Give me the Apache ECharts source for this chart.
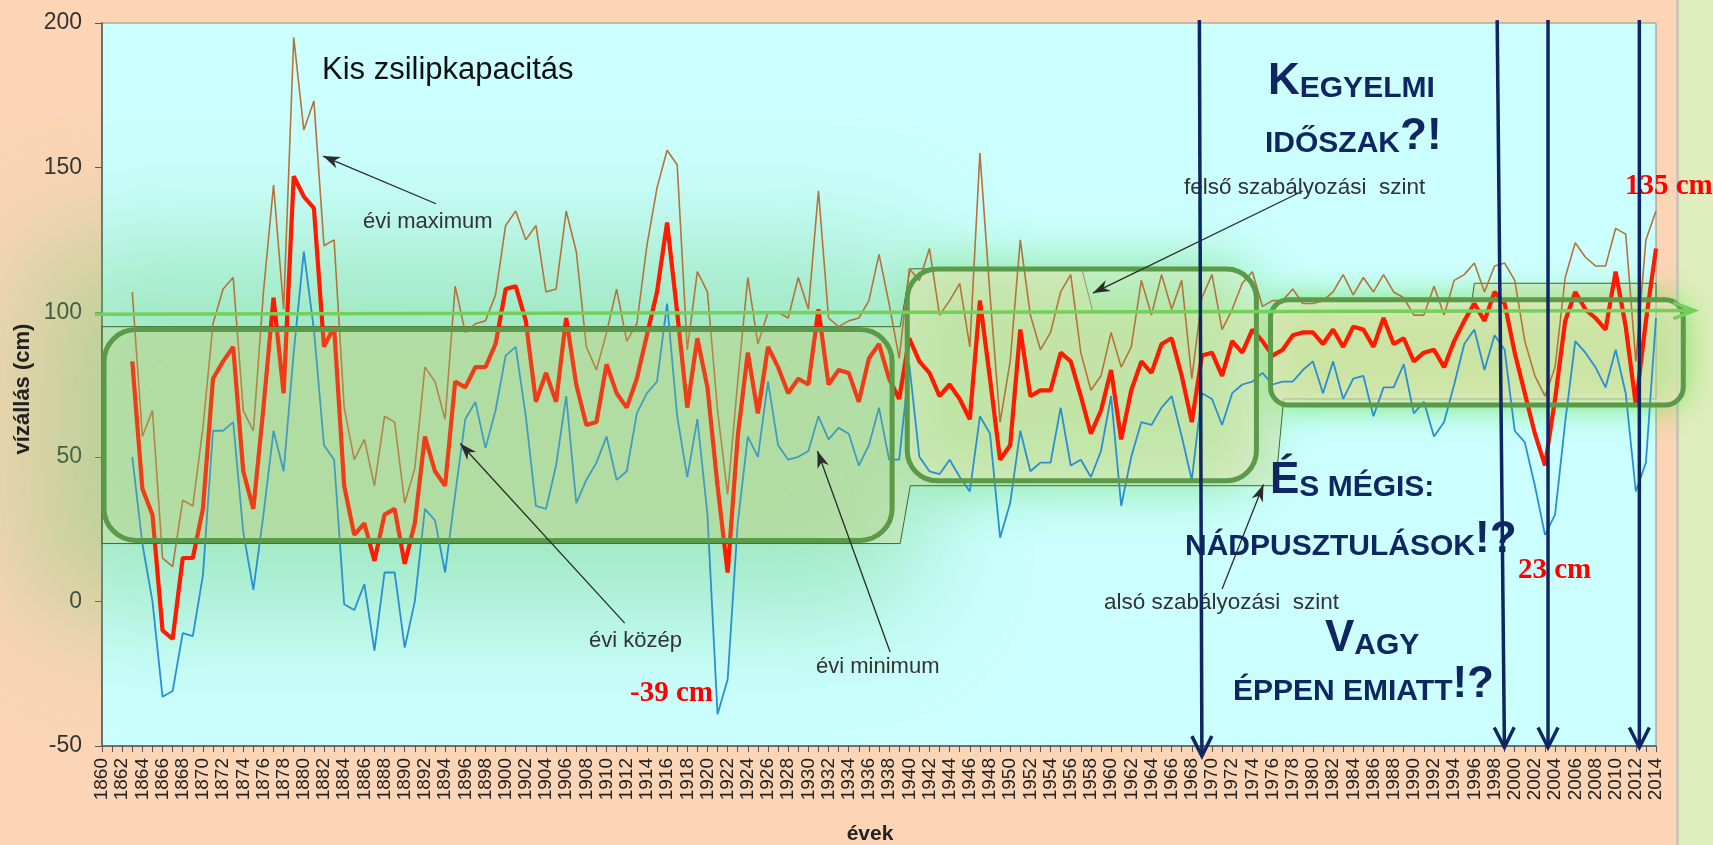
<!DOCTYPE html>
<html>
<head>
<meta charset="utf-8">
<script src="https://cdn.jsdelivr.net/npm/echarts@6/dist/echarts.min.js"></script>
<style>
  html, body { margin: 0; padding: 0; background: #fbd5b5; }
  #chart { width: 1713px; height: 845px; }
</style>
</head>
<body>
<div id="chart"></div>
<script>
// vízállás adatok (cm), 1863-2014
const firstYear = 1863;
const maxLevel = [
  107, 57, 66, 15, 12, 35, 33, 60, 96, 108,
  112, 66, 59, 107, 144, 101, 195, 163, 173, 123,
  125, 67, 49, 56, 40, 64, 62, 34, 46, 81,
  76, 63, 109, 93, 96, 97, 106, 130, 135, 125,
  130, 107, 108, 135, 121, 88, 80, 93, 108, 90,
  96, 123, 143, 156, 151, 87, 114, 107, 66, 37,
  76, 112, 89, 100, 100, 98, 112, 101, 142, 98,
  95, 97, 98, 104, 120, 103, 84, 115, 111, 122,
  99, 104, 110, 88, 155, 106, 62, 83, 125, 99,
  87, 93, 107, 113, 86, 73, 78, 93, 81, 88,
  111, 99, 113, 101, 111, 77, 105, 113, 94, 101,
  110, 114, 102, 104, 104, 108, 103, 103, 104, 107,
  113, 106, 112, 107, 113, 107, 105, 99, 99, 109,
  99, 111, 113, 117, 107, 116, 117, 111, 90, 78,
  71, 81, 112, 124, 119, 116, 116, 129, 127, 83,
  125, 135
];
const meanLevel = [
  83, 39, 30, -10, -13, 15, 15, 32, 77, 83,
  88, 45, 32, 67, 105, 72, 147, 140, 136, 88,
  95, 40, 23, 27, 14, 30, 32, 13, 27, 57,
  45, 40, 76, 74, 81, 81, 89, 108, 109, 97,
  69, 79, 69, 98, 75, 61, 62, 82, 72, 67,
  77, 92, 107, 131, 100, 67, 91, 74, 40, 10,
  57, 86, 65, 88, 81, 72, 77, 75, 101, 75,
  80, 79, 69, 84, 89, 77, 70, 91, 83, 79,
  71, 75, 70, 63, 104, 77, 49, 54, 94, 71,
  73, 73, 86, 83, 71, 58, 66, 80, 56, 73,
  83, 79, 89, 91, 78, 62, 85, 86, 78, 90,
  86, 94, 90, 85, 87, 92, 93, 93, 89, 94,
  88, 95, 94, 88, 98, 89, 91, 83, 86, 87,
  81, 90, 97, 103, 97, 107, 103, 86, 72, 58,
  47, 70, 97, 107, 101, 98, 94, 114, 95, 68,
  97, 122
];
const minLevel = [
  50, 20, 0, -33, -31, -11, -12, 9, 59, 59,
  62, 24, 4, 30, 59, 45, 86, 121, 94, 54,
  49, -1, -3, 6, -17, 10, 10, -16, 0, 32,
  28, 10, 37, 63, 69, 53, 66, 85, 88, 64,
  33, 32, 47, 71, 34, 42, 48, 57, 42, 45,
  65, 72, 76, 103, 64, 43, 63, 30, -39, -27,
  27, 57, 50, 76, 54, 49, 50, 52, 64, 56,
  60, 58, 47, 54, 67, 49, 49, 82, 50, 45,
  44, 49, 43, 38, 64, 58, 22, 34, 59, 45,
  48, 48, 67, 47, 49, 43, 52, 71, 33, 50,
  62, 61, 67, 71, 57, 42, 72, 70, 61, 72,
  75, 76, 79, 75, 76, 76, 80, 83, 72, 83,
  70, 77, 78, 64, 74, 74, 82, 65, 69, 57,
  62, 75, 89, 94, 80, 92, 87, 59, 55, 40,
  23, 30, 62, 90, 86, 81, 74, 87, 72, 38,
  48, 98
];
const years = maxLevel.map((_, i) => firstYear + i);

// tengelyek
const xMin = 1860, xMax = 2014, xStep = 2;
const yMin = -50, yMax = 200, yStep = 50;

// szabályozási szintek (év, cm)
const regUpper = [[1860, 95], [1939.1, 95], [1940.1, 115], [1957.1, 115], [1958.2, 100], [1995.6, 100], [1996, 110], [2014, 110]];
const regLower = [[2014, 70], [1977.1, 70], [1976.3, 40], [1940.1, 40], [1939.1, 20], [1860, 20]];

// kiemelő dobozok: [x1, felső, x2, alsó]
const boxes = [
  [1860.2, 94, 1938.3, 21.1],
  [1939.8, 114.9, 1974.4, 41.7],
  [1975.8, 104.3, 2016.7, 67.9]
];
const glowAreas = [
  [1853, 124, 1941, -4],
  [1939.8, 116, 1974.4, 40],
  [1975.8, 104.3, 2016.7, 67.9]
];
// mutató nyilak: [farok x, farok y, hegy x, hegy y]
const pointerArrows = [
  [1893.1, 137.5, 1881.9, 154],
  [1911.8, -7.5, 1895.5, 54.6],
  [1938.1, -17.5, 1930.9, 52],
  [1979, 141.9, 1958.2, 106.6],
  [1971, 4.3, 1975.1, 40.4]
];
const navyArrows = [
  [1968.75, 201, 1969.0, -53.5],
  [1998.26, 201, 1998.98, -50.5],
  [2003.3, 201, 2003.3, -50.5],
  [2012.35, 201, 2012.35, -50.5]
];
const levelArrow = [[1859.3, 99.3], [2017.8, 100.6]];

const FONT = '"Liberation Sans", Arial, sans-serif';
const SERIF = '"Liberation Serif", "Times New Roman", serif';
const NAVY = '#0f2663';
const OFF = 6000;

const boxRadius = [32, 30, 18];
const glowStyles = [
  { blur: 120, r: 40, color: 'rgba(105,205,115,0.45)' },
  { blur: 55, r: 30, color: 'rgba(100,212,90,0.62)' },
  { blur: 34, r: 18, color: 'rgba(105,222,80,0.92)' }
];
const boxFills = ['rgba(0,0,0,0)', 'rgba(238,238,200,0.38)', 'rgba(240,234,198,0.6)'];

function headPoints(tip, from, len, half, notch) {
  const dx = tip[0] - from[0], dy = tip[1] - from[1];
  const d = Math.hypot(dx, dy) || 1;
  const ux = dx / d, uy = dy / d;
  const bx = tip[0] - ux * len, by = tip[1] - uy * len;
  const left = [bx - uy * half, by + ux * half];
  const right = [bx + uy * half, by - ux * half];
  if (notch == null) return [left, tip, right];
  return [tip, left, [tip[0] - ux * len * notch, tip[1] - uy * len * notch], right];
}

const chart = echarts.init(document.getElementById('chart'));

function boxRect(api, r) {
  const a = api.coord([api.value(0), api.value(1)]);
  const b = api.coord([api.value(2), api.value(3)]);
  return { x: a[0], y: a[1], width: b[0] - a[0], height: b[1] - a[1], r: r };
}

const series = [
  // zöld derengés
  {
    type: 'custom', silent: true, clip: false, z: 1, data: glowAreas,
    renderItem(params, api) {
      const g = glowStyles[params.dataIndex];
      const s = boxRect(api, g.r);
      s.y -= OFF;
      return { type: 'rect', shape: s, style: { fill: '#000', shadowBlur: g.blur, shadowColor: g.color, shadowOffsetY: OFF } };
    }
  },
  // szabályozási sáv
  {
    type: 'custom', silent: true, clip: false, z: 2, data: [[xMin, yMin]],
    renderItem(params, api) {
      const pts = regUpper.concat(regLower).map(p => api.coord(p));
      return { type: 'polygon', shape: { points: pts }, style: { fill: 'rgba(218,216,140,0.35)', stroke: '#3e6b30', lineWidth: 1 } };
    }
  },
  // dobozok kitöltése (vonalak alatt)
  {
    type: 'custom', silent: true, clip: false, z: 3, data: boxes,
    renderItem(params, api) {
      return { type: 'rect', shape: boxRect(api, boxRadius[params.dataIndex]), style: { fill: boxFills[params.dataIndex] } };
    }
  },
  {
    name: 'évi maximum', type: 'line', z: 4, symbol: 'none',
    data: years.map((y, i) => [y, maxLevel[i]]),
    lineStyle: { color: '#b5733a', width: 1.6 }
  },
  {
    name: 'évi minimum', type: 'line', z: 4, symbol: 'none',
    data: years.map((y, i) => [y, minLevel[i]]),
    lineStyle: { color: '#2a8fd0', width: 1.8 }
  },
  {
    name: 'évi közép', type: 'line', z: 4, symbol: 'none',
    data: years.map((y, i) => [y, meanLevel[i]]),
    lineStyle: { color: '#ff1a00', width: 4.2 }
  },
  // dobozok kerete (vonalak felett), az első doboz áttetsző kitöltéssel
  {
    type: 'custom', silent: true, clip: false, z: 5, data: boxes,
    renderItem(params, api) {
      const i = params.dataIndex;
      return {
        type: 'rect', shape: boxRect(api, boxRadius[i]),
        style: { fill: i === 0 ? 'rgba(170,205,120,0.2)' : 'rgba(0,0,0,0)', stroke: '#5b9a48', lineWidth: 5 }
      };
    }
  },
  // 100 cm-es zöld nyíl
  {
    type: 'custom', silent: true, clip: false, z: 6, data: [[xMin, yMin]],
    renderItem(params, api) {
      const a = api.coord(levelArrow[0]);
      const b = api.coord(levelArrow[1]);
      const st = { stroke: '#74d05a', lineWidth: 3.5, fill: null };
      return {
        type: 'group', children: [
          { type: 'line', shape: { x1: a[0], y1: a[1], x2: b[0], y2: b[1] }, style: st },
          { type: 'polyline', shape: { points: headPoints(b, a, 21, 8) }, style: st }
        ]
      };
    }
  },
  // feliratok mutató nyilai
  {
    type: 'custom', silent: true, clip: false, z: 6, data: pointerArrows,
    renderItem(params, api) {
      const a = api.coord([api.value(0), api.value(1)]);
      const b = api.coord([api.value(2), api.value(3)]);
      return {
        type: 'group', children: [
          { type: 'line', shape: { x1: a[0], y1: a[1], x2: b[0], y2: b[1] }, style: { stroke: '#2b2b2b', lineWidth: 1.3 } },
          { type: 'polygon', shape: { points: headPoints(b, a, 17, 6, 0.7) }, style: { fill: '#2b2b2b' } }
        ]
      };
    }
  },
  // sötétkék függőleges nyilak
  {
    type: 'custom', silent: true, clip: false, z: 8, data: navyArrows,
    renderItem(params, api) {
      const a = api.coord([api.value(0), api.value(1)]);
      const b = api.coord([api.value(2), api.value(3)]);
      const st = { stroke: NAVY, lineWidth: 3.5, fill: null };
      return {
        type: 'group', children: [
          { type: 'line', shape: { x1: a[0], y1: a[1], x2: b[0], y2: b[1] }, style: st },
          { type: 'polyline', shape: { points: headPoints(b, a, 20, 10) }, style: st }
        ]
      };
    }
  }
];

function text(x, y, t, size, extra) {
  return {
    type: 'text', x: x, y: y, z: 7, silent: true,
    style: Object.assign({ text: t, fontSize: size, fontFamily: FONT, fill: '#333', align: 'left', verticalAlign: 'middle' }, extra || {})
  };
}

const bigRich = {
  b: { fontSize: 44, fontWeight: 'bold', fontFamily: FONT, fill: NAVY, verticalAlign: 'bottom' },
  s: { fontSize: 30, fontWeight: 'bold', fontFamily: FONT, fill: NAVY, verticalAlign: 'bottom' }
};
function bigText(x, baseline, t) {
  return text(x, baseline + 9, t, 30, { rich: bigRich, verticalAlign: 'bottom', fill: NAVY, fontWeight: 'bold' });
}
const redLabel = { fontFamily: SERIF, fontWeight: 'bold', fill: '#ff0000' };

const graphics = [
  { type: 'rect', z: -1, silent: true, shape: { x: 1679, y: 0, width: 40, height: 845 }, style: { fill: '#e0eebd' } },
  { type: 'rect', z: -1, silent: true, shape: { x: 1676, y: 0, width: 3, height: 845 }, style: { fill: '#c9c6bd' } },
  text(322, 70, 'Kis zsilipkapacitás', 31, { fill: '#111' }),
  text(363, 222, 'évi maximum', 22),
  text(589, 641, 'évi közép', 22),
  text(816, 667, 'évi minimum', 22),
  text(1184, 188, 'felső szabályozási  szint', 22.5),
  text(1104, 603, 'alsó szabályozási  szint', 22.5),
  text(630, 694, '-39 cm', 29, redLabel),
  text(1518, 571, '23 cm', 29, redLabel),
  text(1625, 187, '135 cm', 29, redLabel),
  bigText(1268, 94.5, '{b|K}{s|EGYELMI}'),
  bigText(1265, 150, '{s|IDŐSZAK}{b|?!}'),
  bigText(1270, 494, '{b|É}{s|S MÉGIS:}'),
  bigText(1185, 553, '{s|NÁDPUSZTULÁSOK}{b|!?}'),
  bigText(1325, 652, '{b|V}{s|AGY}'),
  bigText(1233, 698, '{s|ÉPPEN EMIATT}{b|!?}'),
  {
    type: 'text', x: 23, y: 389, rotation: Math.PI / 2, z: 7, silent: true,
    style: { text: 'vízállás (cm)', fontSize: 22, fontWeight: 'bold', fontFamily: FONT, fill: '#222', align: 'center', verticalAlign: 'middle' }
  },
  text(870, 834, 'évek', 21, { fontWeight: 'bold', fill: '#222', align: 'center' })
];

const option = {
  animation: false,
  backgroundColor: '#fbd5b5',
  grid: {
    left: 102, right: 57, top: 23, bottom: 99,
    show: true, backgroundColor: '#ccffff', borderColor: '#8c8c8c', borderWidth: 1,
    outerBoundsMode: 'none'
  },
  xAxis: {
    type: 'value', min: xMin, max: xMax, interval: xStep,
    axisLine: { show: true, onZero: false, lineStyle: { color: '#555', width: 1.5 } },
    axisTick: { show: true, length: 6, lineStyle: { color: '#555' } },
    minorTick: { show: true, splitNumber: 2, length: 6, lineStyle: { color: '#555' } },
    axisLabel: {
      rotate: 90, fontSize: 19, color: '#222', margin: 12, fontFamily: FONT,
      formatter: v => String(v), showMinLabel: true, showMaxLabel: true, hideOverlap: false
    },
    splitLine: { show: false }
  },
  yAxis: {
    type: 'value', min: yMin, max: yMax, interval: yStep,
    axisLine: { show: true, lineStyle: { color: '#555', width: 1.5 } },
    axisTick: { show: true, length: 7, lineStyle: { color: '#555' } },
    axisLabel: { fontSize: 23, color: '#333', margin: 20, fontFamily: FONT },
    splitLine: { show: false }
  },
  series: series,
  graphic: { elements: graphics }
};

chart.setOption(option);
window.addEventListener('resize', () => chart.resize());
</script>
</body>
</html>
